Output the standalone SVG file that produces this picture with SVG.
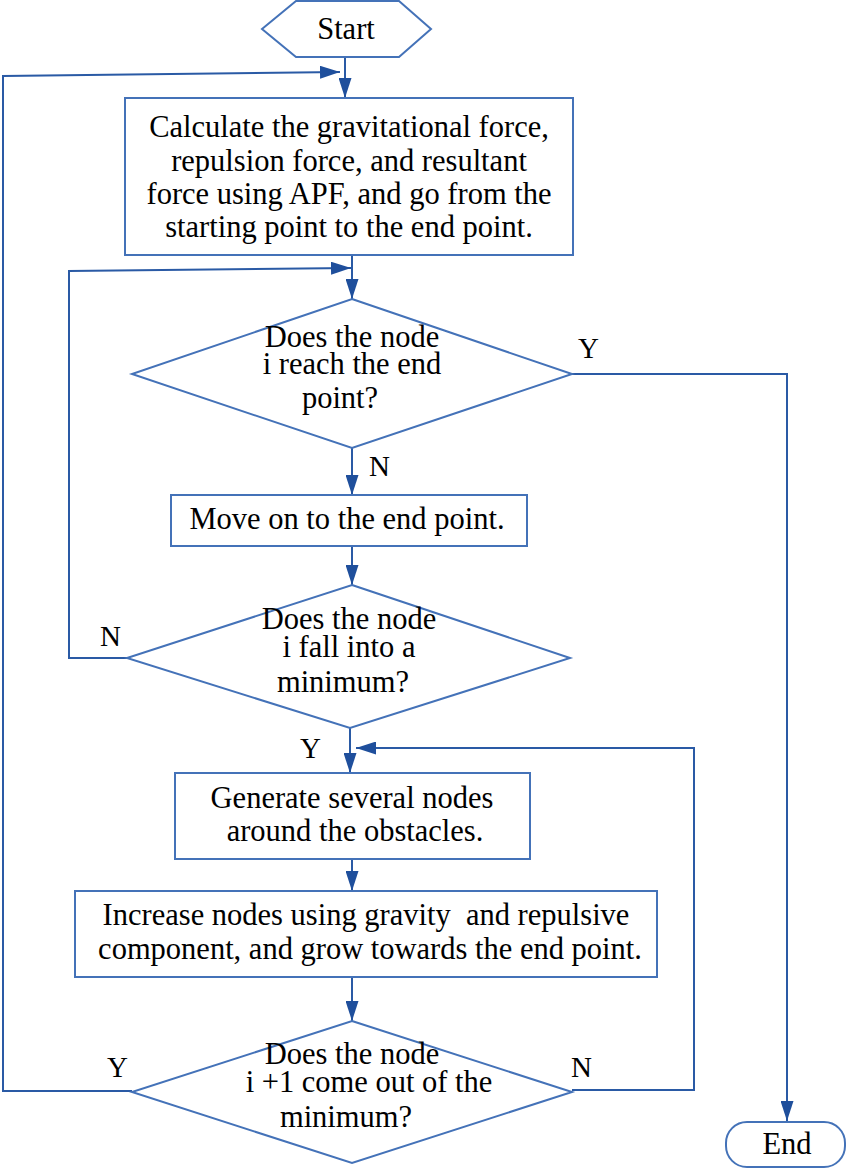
<svg xmlns="http://www.w3.org/2000/svg" width="846" height="1169" viewBox="0 0 846 1169">
<style>
.s{fill:#fff;stroke:#4472b8;stroke-width:2}
.c{fill:none;stroke:#2a5aa5;stroke-width:2}
.t{font-family:"Liberation Serif","Times New Roman",serif;font-size:30.5px;fill:#000;text-anchor:middle}
.l{font-family:"Liberation Serif","Times New Roman",serif;font-size:29px;fill:#000}
</style>
<defs>
<marker id="b" viewBox="0 0 10 10" refX="10" refY="5" markerWidth="20" markerHeight="13" markerUnits="userSpaceOnUse" orient="auto" preserveAspectRatio="none">
<path d="M0,0 L10,5 L0,10 Z" fill="#1f4f9c"/>
</marker>
</defs>
<g id="connectors">
<line class="c" x1="345" y1="57" x2="345" y2="98" marker-end="url(#b)"/>
<polyline class="c" points="132,1091 3,1091 3,76 340,72" marker-end="url(#b)"/>
<line class="c" x1="352" y1="255" x2="352" y2="299" marker-end="url(#b)"/>
<polyline class="c" points="127,658 69,658 69,271 351,268" marker-end="url(#b)"/>
<polyline class="c" points="572,374 787,374 787,1121" marker-end="url(#b)"/>
<line class="c" x1="352" y1="448" x2="352" y2="495" marker-end="url(#b)"/>
<line class="c" x1="352" y1="546" x2="352" y2="585" marker-end="url(#b)"/>
<line class="c" x1="350" y1="728" x2="350" y2="773" marker-end="url(#b)"/>
<polyline class="c" points="572,1090 694,1090 694,748 356,748" marker-end="url(#b)"/>
<line class="c" x1="352" y1="859" x2="352" y2="891" marker-end="url(#b)"/>
<line class="c" x1="352" y1="977" x2="352" y2="1021" marker-end="url(#b)"/>
<text class="l" x="578" y="358">Y</text>
<text class="l" x="369" y="476">N</text>
<text class="l" x="100" y="646">N</text>
<text class="l" x="300" y="758">Y</text>
<text class="l" x="107" y="1077">Y</text>
<text class="l" x="571" y="1077">N</text>
</g>
<g id="start">
<polygon class="s" points="262,29 296,1 399,1 431,29 399,57 296,57"/>
<text class="t" x="346" y="39">Start</text>
</g>
<g id="calc">
<rect class="s" x="125" y="98" width="448" height="157"/>
<text class="t" x="349" y="137">Calculate the gravitational force,</text>
<text class="t" x="349" y="171">repulsion force, and resultant</text>
<text class="t" x="349" y="204">force using APF, and go from the</text>
<text class="t" x="349" y="237">starting point to the end point.</text>
</g>
<g id="reach">
<polygon class="s" points="352,299 572,374 352,448 132,374"/>
<text class="t" x="352" y="347">Does the node</text>
<text class="t" x="352" y="374">i reach the end</text>
<text class="t" x="340" y="408">point?</text>
</g>
<g id="move">
<rect class="s" x="171" y="495" width="356" height="51"/>
<text class="t" x="347" y="529">Move on to the end point.</text>
</g>
<g id="fall">
<polygon class="s" points="352,585 570,658 350,728 127,658"/>
<text class="t" x="349" y="629">Does the node</text>
<text class="t" x="349" y="657">i fall into a</text>
<text class="t" x="343" y="692">minimum?</text>
</g>
<g id="generate">
<rect class="s" x="175" y="773" width="355" height="86"/>
<text class="t" x="352" y="808">Generate several nodes</text>
<text class="t" x="355" y="841">around the obstacles.</text>
</g>
<g id="increase">
<rect class="s" x="75" y="891" width="582" height="86"/>
<text class="t" x="366" y="925" xml:space="preserve">Increase nodes using gravity  and repulsive</text>
<text class="t" x="370" y="959">component, and grow towards the end point.</text>
</g>
<g id="out">
<polygon class="s" points="352,1021 572,1092 352,1163 132,1092"/>
<text class="t" x="352" y="1064">Does the node</text>
<text class="t" x="369" y="1092">i +1 come out of the</text>
<text class="t" x="346" y="1127">minimum?</text>
</g>
<g id="end">
<rect class="s" x="726" y="1122" width="119" height="45" rx="21" ry="21"/>
<text class="t" x="787" y="1154">End</text>
</g>
</svg>
